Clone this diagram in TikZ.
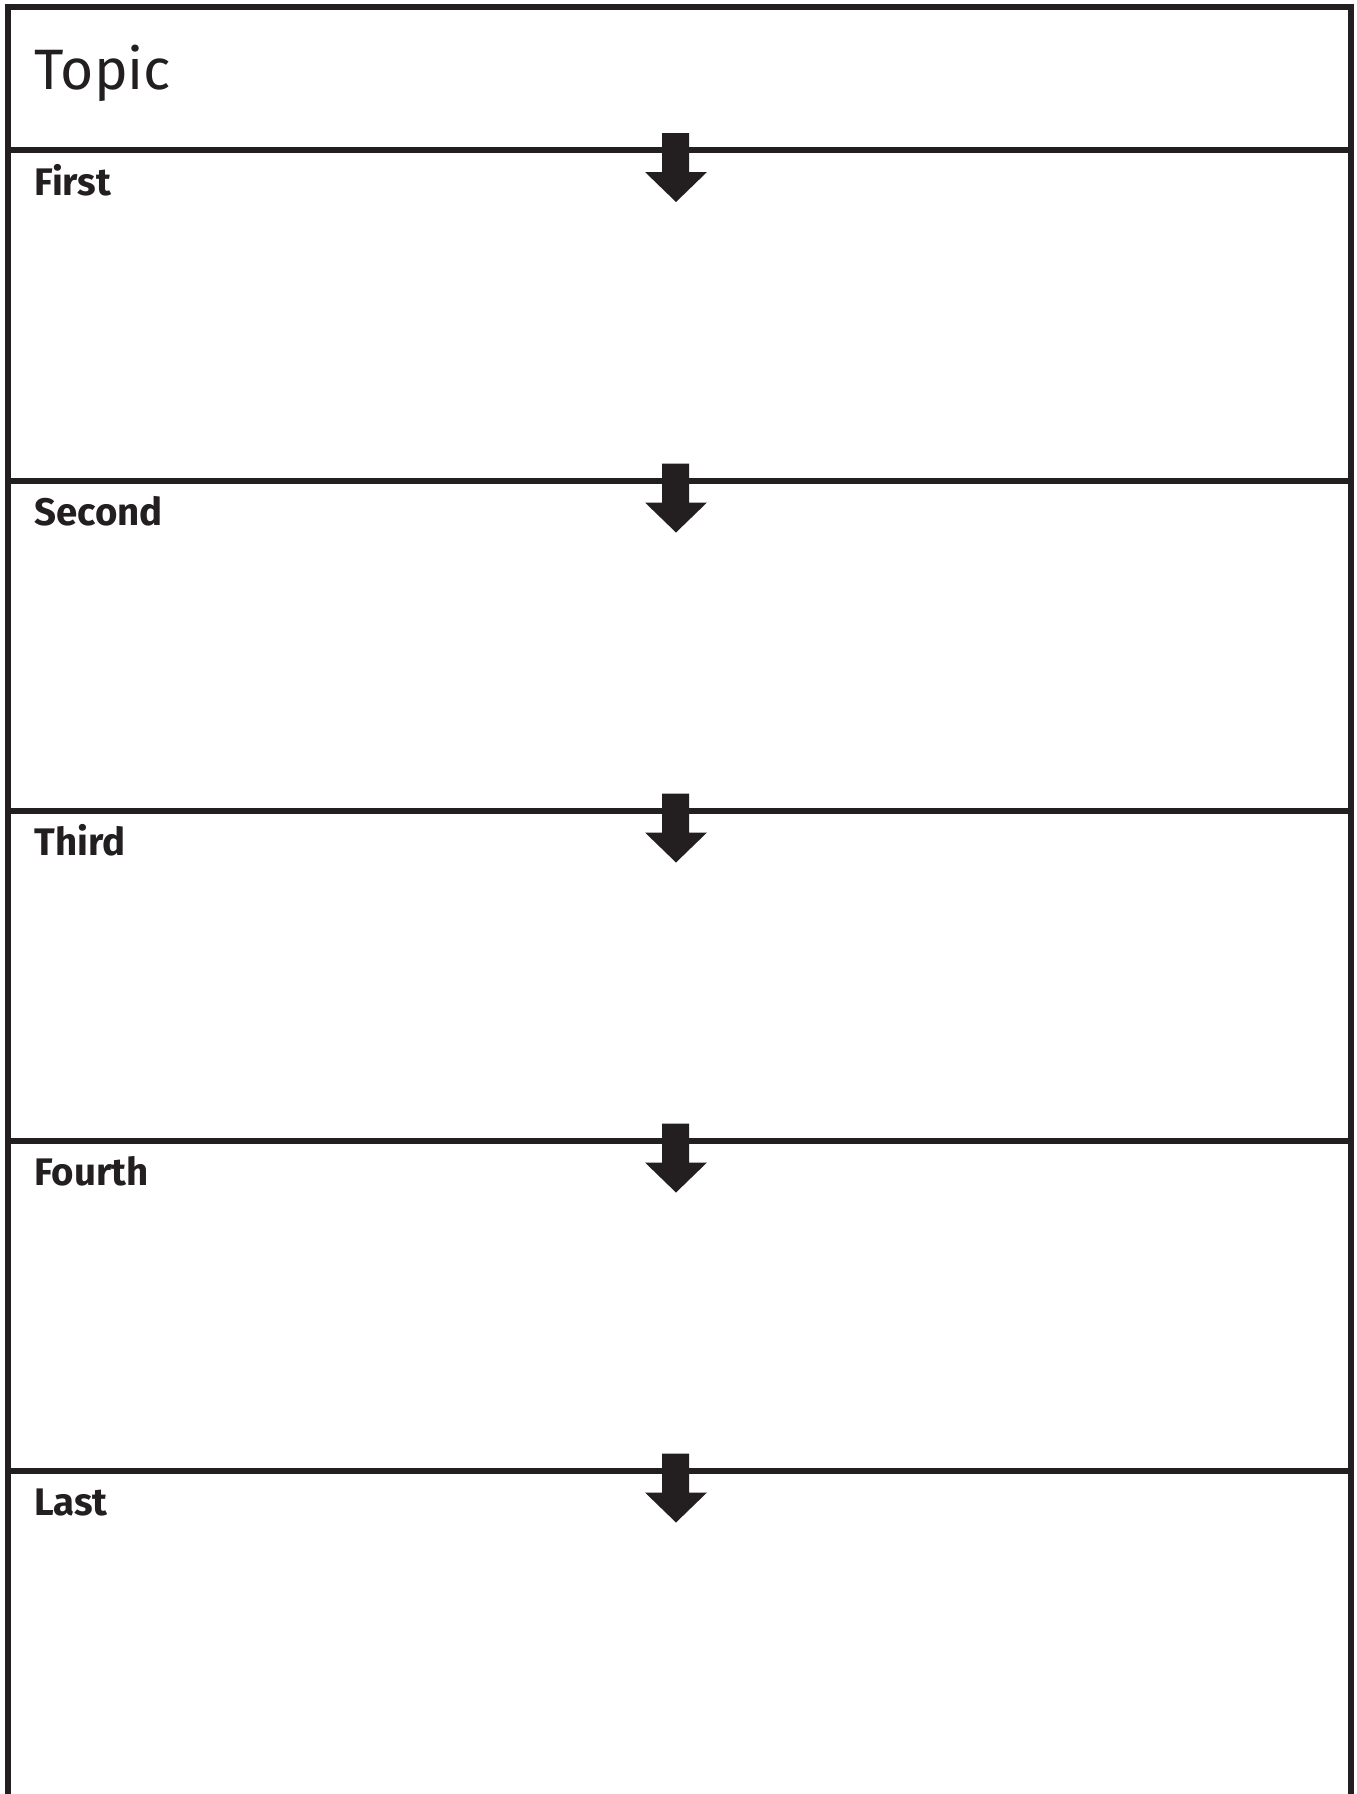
\documentclass[tikz,border=0pt]{standalone}
\usepackage{fontspec}
\setmainfont{Fira Sans}
\definecolor{ink}{HTML}{231F20}
\begin{document}
\begin{tikzpicture}[x=0.5pt,y=-0.5pt,
  frame/.style={draw=ink,line width=3pt},
  divider/.style={draw=ink,line width=3pt},
  blockarrow/.style={fill=ink},
  title/.style={text=ink,font=\fontsize{28.5}{34}\selectfont,anchor=base west,inner sep=0pt},
  steplabel/.style={text=ink,font=\fontsize{19.2}{23}\selectfont\bfseries,anchor=base west,inner sep=0pt}]
\useasboundingbox (0,0) rectangle (1356,1794);
\fill[white] (0,0) rectangle (1356,1794);
% outer frame (open at the bottom)
\draw[frame] (8,1794) -- (8,7) -- (1351,7) -- (1351,1794);
\node[title] (topic) at (34,89) {Topic};
\foreach \y/\name/\txt in {150/first/First,480.5/second/Second,810.5/third/Third,1140.5/fourth/Fourth,1470.5/last/Last}{
  \draw[divider] (8,\y) -- (1351,\y);
  \fill[blockarrow] (662,\y-17) -- (689,\y-17) -- (689,\y+22) -- (707,\y+22)
     -- (676,\y+52) -- (645,\y+22) -- (662,\y+22) -- cycle;
  \node[steplabel] (\name) at (34,\y+45) {\txt};
}
\end{tikzpicture}
\end{document}
